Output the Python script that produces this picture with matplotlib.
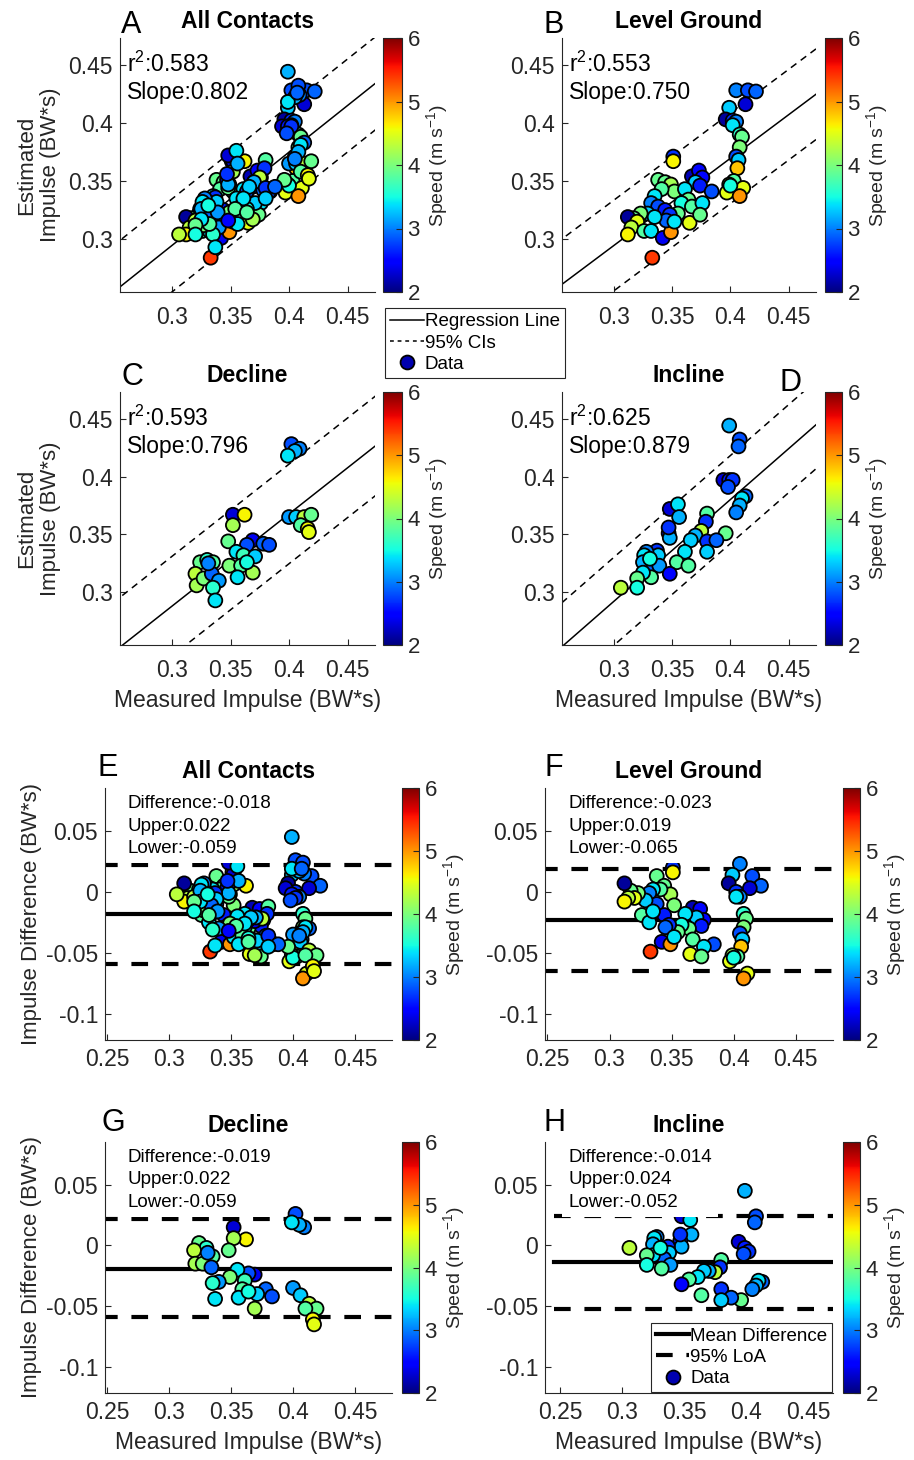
import numpy as np
import matplotlib.pyplot as plt
from matplotlib.lines import Line2D

plt.rcParams['font.family'] = ['Liberation Sans', 'DejaVu Sans']
plt.rcParams['mathtext.fontset'] = 'custom'
plt.rcParams['mathtext.rm'] = 'Liberation Sans'
plt.rcParams['mathtext.it'] = 'Liberation Sans:italic'
plt.rcParams['axes.unicode_minus'] = False

# level ground contacts
level_meas = [0.405, 0.415, 0.422, 0.399, 0.413, 0.396, 0.402, 0.405, 0.402, 0.408, 0.410,
              0.408, 0.405, 0.407, 0.406, 0.403, 0.399, 0.411, 0.397, 0.408, 0.400,
              0.351, 0.351, 0.338, 0.344, 0.349, 0.352, 0.341, 0.335, 0.332, 0.338, 0.344,
              0.329, 0.323, 0.317, 0.312, 0.320, 0.315, 0.312, 0.326, 0.332, 0.342, 0.349, 0.333,
              0.367, 0.373, 0.376, 0.370, 0.374, 0.384, 0.361, 0.364, 0.358, 0.367, 0.376,
              0.355, 0.365, 0.374, 0.348, 0.345, 0.352, 0.335]
level_est = [0.428, 0.428, 0.427, 0.413, 0.416, 0.403, 0.402, 0.401, 0.398, 0.390, 0.388,
             0.379, 0.371, 0.368, 0.361, 0.350, 0.347, 0.344, 0.340, 0.337, 0.346,
             0.371, 0.367, 0.351, 0.349, 0.347, 0.341, 0.343, 0.337, 0.331, 0.328, 0.325,
             0.322, 0.322, 0.318, 0.319, 0.315, 0.310, 0.304, 0.307, 0.307, 0.301, 0.306, 0.284,
             0.354, 0.359, 0.353, 0.349, 0.346, 0.341, 0.343, 0.334, 0.331, 0.328, 0.331,
             0.322, 0.314, 0.321, 0.321, 0.316, 0.315, 0.319]
level_speed = [3.0, 2.8, 2.9, 3.3, 2.3, 2.1, 2.7, 3.0, 3.4, 3.6, 3.9,
               4.0, 2.8, 3.3, 4.8, 3.8, 4.2, 4.5, 4.5, 5.0, 3.5,
               2.7, 4.6, 3.9, 3.9, 4.2, 4.0, 3.8, 3.4, 3.0, 2.8, 2.6,
               3.3, 4.0, 3.9, 2.1, 4.5, 4.3, 4.6, 3.8, 3.4, 2.4, 5.0, 5.4,
               2.2, 2.5, 2.5, 3.3, 2.6, 2.8, 3.4, 3.9, 3.5, 3.8, 3.4,
               3.9, 4.5, 3.9, 2.7, 2.9, 3.4, 3.4]

# decline contacts
decline_meas = [0.402, 0.409, 0.405, 0.399, 0.400, 0.406, 0.413, 0.419, 0.410, 0.416, 0.417,
                0.352, 0.362, 0.352, 0.348, 0.369, 0.364, 0.378, 0.383,
                0.355, 0.361, 0.371, 0.349, 0.359, 0.356, 0.369, 0.364,
                0.324, 0.330, 0.335, 0.320, 0.321, 0.327, 0.334, 0.340, 0.335, 0.337, 0.331]
decline_est = [0.428, 0.424, 0.422, 0.418, 0.365, 0.365, 0.365, 0.367, 0.358, 0.355, 0.352,
               0.367, 0.367, 0.358, 0.344, 0.345, 0.341, 0.342, 0.341,
               0.335, 0.332, 0.331, 0.323, 0.323, 0.313, 0.317, 0.326,
               0.326, 0.328, 0.326, 0.316, 0.306, 0.312, 0.316, 0.310, 0.304, 0.293, 0.325]
decline_speed = [2.8, 3.0, 3.2, 3.4, 3.1, 3.3, 4.3, 3.9, 3.8, 4.6, 4.5,
                 2.3, 4.6, 4.2, 3.9, 2.4, 2.8, 2.9, 2.8,
                 3.4, 3.7, 3.3, 4.0, 3.8, 3.4, 4.2, 3.5,
                 3.9, 3.6, 3.8, 4.3, 4.2, 4.0, 2.9, 3.1, 3.6, 3.4, 3.0]

# incline contacts
incline_meas = [0.399, 0.408, 0.407, 0.394, 0.399, 0.402, 0.398, 0.413, 0.410, 0.408, 0.405, 0.396,
                0.380, 0.379, 0.375, 0.370, 0.366, 0.380, 0.388, 0.380,
                0.348, 0.355, 0.356, 0.347, 0.348, 0.361, 0.354, 0.364,
                0.337, 0.338, 0.328, 0.326, 0.325, 0.334, 0.339, 0.348,
                0.332, 0.325, 0.320, 0.320, 0.306, 0.347, 0.331]
incline_est = [0.444, 0.432, 0.426, 0.397, 0.397, 0.397, 0.391, 0.383, 0.381, 0.375, 0.369, 0.351,
               0.368, 0.361, 0.353, 0.349, 0.345, 0.344, 0.345, 0.335,
               0.372, 0.376, 0.365, 0.351, 0.347, 0.335, 0.326, 0.323,
               0.336, 0.332, 0.335, 0.332, 0.326, 0.323, 0.323, 0.316,
               0.313, 0.317, 0.312, 0.304, 0.304, 0.356, 0.329]
incline_speed = [3.2, 2.8, 2.9, 2.3, 2.6, 2.7, 2.8, 2.9, 3.4, 3.2, 3.0, 3.9,
                 3.8, 2.7, 4.3, 3.2, 3.3, 2.7, 2.9, 3.3,
                 2.3, 3.4, 3.2, 2.6, 3.2, 3.4, 3.8, 3.8,
                 2.7, 3.3, 3.0, 3.4, 3.2, 2.9, 3.1, 2.5,
                 3.8, 3.4, 3.9, 3.5, 4.3, 2.7, 3.5]

conditions = ['All Contacts', 'Level Ground', 'Decline', 'Incline']

# regression stats (all, level, decline, incline)
fit_r2 = [0.583, 0.553, 0.593, 0.625]
fit_slope = [0.802, 0.750, 0.796, 0.879]
fit_icpt = [0.054, 0.0695, 0.0493, 0.0285]
ci_half = [0.040, 0.039, 0.043, 0.038]

# Bland-Altman stats
ba_diff = [-0.018, -0.023, -0.019, -0.014]
ba_upper = [0.022, 0.019, 0.022, 0.024]
ba_lower = [-0.059, -0.065, -0.059, -0.052]

top_ticks = [0.3, 0.35, 0.4, 0.45]
top_ticklabels = ['0.3', '0.35', '0.4', '0.45']
ba_xticks = [0.25, 0.3, 0.35, 0.4, 0.45]
ba_xticklabels = ['0.25', '0.3', '0.35', '0.4', '0.45']
ba_yticks = [-0.1, -0.05, 0, 0.05]
ba_yticklabels = ['-0.1', '-0.05', '0', '0.05']
speed_ticks = [2, 3, 4, 5, 6]

meas_sets = [np.array(level_meas + decline_meas + incline_meas), np.array(level_meas),
             np.array(decline_meas), np.array(incline_meas)]
est_sets = [np.array(level_est + decline_est + incline_est), np.array(level_est),
            np.array(decline_est), np.array(incline_est)]
speed_sets = [np.array(level_speed + decline_speed + incline_speed), np.array(level_speed),
              np.array(decline_speed), np.array(incline_speed)]

W, H = 914, 1460
fig = plt.figure(figsize=(W / 100, H / 100), dpi=100)
ink = '#262626'


def box(x0, y0, x1, y1):
    return [x0 / W, 1 - y1 / H, (x1 - x0) / W, (y1 - y0) / H]


def style_axes(ax, pad):
    for s in ['top', 'right']:
        ax.spines[s].set_visible(False)
    for s in ['left', 'bottom']:
        ax.spines[s].set_color(ink)
        ax.spines[s].set_linewidth(0.8)
    ax.tick_params(direction='in', length=4, width=0.8, color=ink, labelcolor=ink,
                   labelsize=16.5)
    ax.tick_params(axis='x', pad=pad)
    ax.tick_params(axis='y', pad=5)


def add_cbar(sc, rect):
    cax = fig.add_axes(box(*rect))
    cb = fig.colorbar(sc, cax=cax, ticks=speed_ticks)
    cb.outline.set_linewidth(0.8)
    cb.outline.set_edgecolor(ink)
    cax.tick_params(direction='in', length=4, width=0.8, color=ink, labelcolor=ink,
                    labelsize=16, pad=4)
    cb.set_label('Speed (m s$^{-1}$)', fontsize=14, color=ink, labelpad=3)


def letter(x, y, s):
    fig.text(x / W, 1 - y / H, s, ha='center', va='center', fontsize=22)


scatter_kw = dict(cmap='jet', vmin=2, vmax=6, s=100, edgecolors='k', linewidths=1.3, zorder=3)

# regression panels
top_rects = [(120, 38, 375, 292), (562, 38, 816, 292), (120, 392, 375, 645), (562, 392, 816, 645)]
top_cbars = [(383, 38, 402, 292), (825, 38, 842, 292), (383, 392, 402, 645), (825, 392, 842, 645)]
line_x = np.array([0.2, 0.5])
for i in range(4):
    ax = fig.add_axes(box(*top_rects[i]))
    fit = fit_slope[i] * line_x + fit_icpt[i]
    ax.plot(line_x, fit, color='k', lw=1.1, zorder=2)
    for sgn in (1, -1):
        ax.plot(line_x, fit + sgn * ci_half[i], color='k', lw=1.1, ls=(0, (4.5, 3.5)), zorder=2)
    sc = ax.scatter(meas_sets[i], est_sets[i], c=speed_sets[i], **scatter_kw)
    ax.set_xlim(0.2555, 0.4735)
    ax.set_ylim(0.2545, 0.473)
    ax.set_xticks(top_ticks)
    ax.set_xticklabels(top_ticklabels)
    ax.set_yticks(top_ticks)
    ax.set_yticklabels(top_ticklabels)
    style_axes(ax, 10)
    ax.set_title(conditions[i], fontsize=16.5, fontweight='bold', pad=7)
    ax.text(0.027, 0.895, 'r$^2$:%.3f' % fit_r2[i], transform=ax.transAxes,
            fontsize=16.5, va='center', color='k')
    ax.text(0.027, 0.785, 'Slope:%.3f' % fit_slope[i], transform=ax.transAxes,
            fontsize=16.5, va='center', color='k')
    if i % 2 == 0:
        ax.set_ylabel('Estimated\nImpulse (BW*s)', fontsize=16, color=ink, labelpad=5,
                      linespacing=1.2)
    if i >= 2:
        ax.set_xlabel('Measured Impulse (BW*s)', fontsize=16.5, color=ink, labelpad=5)
    add_cbar(sc, top_cbars[i])

for (x, y), s in zip([(131, 25), (554, 25), (132, 377), (791, 383)], 'ABCD'):
    letter(x, y, s)

leg_handles = [Line2D([], [], color='k', lw=1.1),
               Line2D([], [], color='k', lw=1.1, ls=(0, (2.5, 2.5))),
               Line2D([], [], marker='o', ls='none', mfc='#0000b0', mec='k', ms=10, mew=1.3)]
leg = fig.legend(leg_handles, ['Regression Line', '95% CIs', 'Data'], loc='center',
                 bbox_to_anchor=(475 / W, 1 - 343 / H), fancybox=False, edgecolor=ink,
                 framealpha=1, fontsize=13.5, handlelength=1.8, handletextpad=0.05,
                 borderpad=0.3, labelspacing=0.22, borderaxespad=0)
leg.get_frame().set_linewidth(0.8)

# Bland-Altman panels
ba_rects = [(105, 788, 392, 1040), (545, 788, 833, 1040), (105, 1142, 392, 1393), (545, 1142, 833, 1393)]
ba_cbars = [(402, 788, 419, 1040), (843, 788, 860, 1040), (402, 1142, 419, 1393), (843, 1142, 860, 1393)]
ba_xlims = [(0.248, 0.48), (0.248, 0.48), (0.248, 0.48), (0.238, 0.47)]
dash_long = (0, (4, 3.3))
for i in range(4):
    ax = fig.add_axes(box(*ba_rects[i]))
    diff = est_sets[i] - meas_sets[i]
    lx = [0.245, 0.48]
    ax.plot(lx, [ba_diff[i]] * 2, color='k', lw=3, zorder=2)
    ax.plot(lx, [ba_upper[i]] * 2, color='k', lw=3, ls=dash_long, zorder=2)
    ax.plot(lx, [ba_lower[i]] * 2, color='k', lw=3, ls=dash_long, zorder=2)
    sc = ax.scatter(meas_sets[i], diff, c=speed_sets[i], **scatter_kw)
    ax.set_xlim(*ba_xlims[i])
    ax.set_ylim(-0.1215, 0.0852)
    ax.set_xticks(ba_xticks)
    ax.set_xticklabels(ba_xticklabels)
    ax.set_yticks(ba_yticks)
    ax.set_yticklabels(ba_yticklabels)
    style_axes(ax, 6)
    ax.set_title(conditions[i], fontsize=16.5, fontweight='bold', pad=7)
    # white box behind the stats text masks whatever sits under it
    ax.text(0.08, 0.972, 'Difference:%.3f\nUpper:%.3f\nLower:%.3f'
            % (ba_diff[i], ba_upper[i], ba_lower[i]),
            transform=ax.transAxes, fontsize=13.5, va='top', ha='left', linespacing=1.42,
            bbox=dict(facecolor='white', edgecolor='none', pad=4.5), zorder=4)
    if i % 2 == 0:
        ax.set_ylabel('Impulse Difference (BW*s)', fontsize=16, color=ink, labelpad=3)
    if i >= 2:
        ax.set_xlabel('Measured Impulse (BW*s)', fontsize=16.5, color=ink, labelpad=5)
    add_cbar(sc, ba_cbars[i])
    if i == 3:
        ba_handles = [Line2D([], [], color='k', lw=3),
                      Line2D([], [], color='k', lw=3, ls=dash_long),
                      Line2D([], [], marker='o', ls='none', mfc='#0000b0', mec='k', ms=10, mew=1.3)]
        bl = ax.legend(ba_handles, ['Mean Difference', '95% LoA', 'Data'], loc='lower right',
                       bbox_to_anchor=(0.997, 0.004), fancybox=False, edgecolor=ink,
                       framealpha=1, fontsize=13.5, handlelength=1.8, handletextpad=0.05,
                       borderpad=0.25, labelspacing=0.22, borderaxespad=0)
        bl.get_frame().set_linewidth(0.8)
        bl.set_zorder(5)

for (x, y), s in zip([(108, 768), (554, 768), (113, 1123), (555, 1123)], 'EFGH'):
    letter(x, y, s)

fig.savefig('out.png', dpi=100)
